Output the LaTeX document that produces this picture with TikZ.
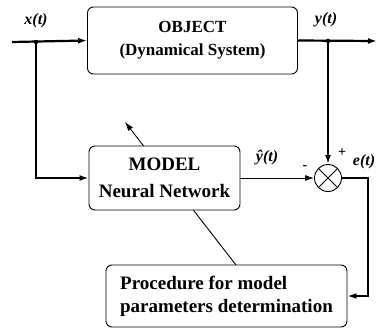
\documentclass[tikz,border=0pt]{standalone}
\usepackage{fontspec}
\setmainfont{Liberation Serif}
\usetikzlibrary{arrows.meta}

\tikzset{
  blk/.style={draw, line width=0.9pt, rounded corners=6pt, fill=white, inner sep=0pt,
    font=\bfseries\fontsize{17}{23}\selectfont, align=center},
  sig/.style={font=\bfseries\itshape\fontsize{16}{18}\selectfont},
  main/.style={line width=2.2pt},
  thin/.style={line width=0.9pt},
  tip/.style={-{Latex[length=9pt,width=6pt]}}
}

\begin{document}
\begin{tikzpicture}[x=1pt,y=-1pt]
\useasboundingbox (0,0) rectangle (380,329);
% points without a block
\coordinate (in) at (12,42);
\coordinate (jx) at (36,42);
\coordinate (jy) at (328,41);
\coordinate (out) at (377,41);
\coordinate (ec) at (368,296);
\coordinate (adj) at (236,265);
\coordinate (tune) at (125,122);
% model tuning, runs behind the model block
\draw [thin, tip] (adj) -- (tune);
\path (192.5,40.5) node [blk, minimum width=210pt, minimum height=67pt] (obj) {OBJECT\\(Dynamical System)}
      (164.5,178) node [blk, minimum width=151pt, minimum height=64pt,
        font=\bfseries\fontsize{19}{27}\selectfont] (mdl) {MODEL\\Neural Network}
      (226.5,296) node [blk, minimum width=241pt, minimum height=62pt, align=left,
        font=\bfseries\fontsize{19}{23}\selectfont] (proc) {Procedure for model\\parameters determination}
      (328,178) node [draw, thin, circle, minimum size=27pt, inner sep=0pt] (sum) {}
      ;
\draw [thin] (sum.north west) -- (sum.south east);
\draw [thin] (sum.north east) -- (sum.south west);
% signals
\draw [main, tip] (in) -- (obj.west);
\draw [main, tip] (jx) |- (mdl.west);
\draw [main, tip] (obj.east) -- (out);
\draw [main, tip] (jy) -- (sum.north);
\draw [thin, tip] (mdl.east) -- (sum.west);
\draw [main, tip] (sum.east) -| (ec) -- (proc.east);
\fill (jx) circle (2.2pt);
\fill (jy) circle (2.2pt);
% labels
\path (36,21) node [sig] (lx) {x(t)}
      (326,20) node [sig] (ly) {y(t)}
      (267,158) node [sig] (lyh) {\^{y}(t)}
      (364,162) node [sig] (le) {e(t)}
      (305,168) node [font=\bfseries\fontsize{14}{16}\selectfont] (lm) {-}
      (342,153) node [font=\bfseries\fontsize{14}{16}\selectfont] (lp) {+}
      ;
\end{tikzpicture}
\end{document}
